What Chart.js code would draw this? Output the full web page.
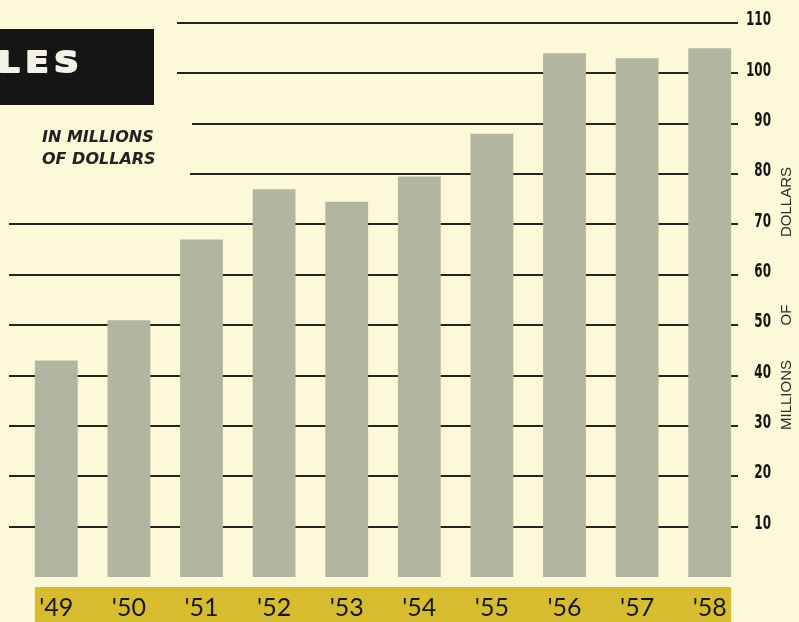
<!DOCTYPE html>
<html>
<head>
<meta charset="utf-8">
<script src="https://cdn.jsdelivr.net/npm/chart.js@4.4.1/dist/chart.umd.min.js"></script>
<style>
  html, body { margin: 0; padding: 0; background: #fcf9d9; }
  #wrap { width: 799px; height: 622px; position: relative; }
</style>
</head>
<body>
<div id="wrap"><canvas id="salesChart"></canvas></div>
<script>
// yearly sales, millions of dollars
const years = ["'49", "'50", "'51", "'52", "'53", "'54", "'55", "'56", "'57", "'58"];
const salesMillions = [43, 51, 67, 77, 74.5, 79.5, 88, 104, 103, 105];
const yTicks = [10, 20, 30, 40, 50, 60, 70, 80, 90, 100, 110];
const axisWords = ['MILLIONS', 'OF', 'DOLLARS'];

// rules stop short on the left where the heading sits
const ruleStart = { 110: 177, 100: 177, 90: 192, 80: 190 };

const yearBand = {
    id: 'yearBand',
    beforeDraw(chart) {
        const { ctx, chartArea } = chart;
        const bars = chart.getDatasetMeta(0).data;
        const first = bars[0];
        const last = bars[bars.length - 1];
        const left = first.x - first.width / 2;
        const right = last.x + last.width / 2;
        ctx.save();
        ctx.fillStyle = '#d6bc2e';
        ctx.fillRect(left, chartArea.bottom + 10, right - left, chart.height - chartArea.bottom - 10);
        ctx.restore();
    }
};

const rules = {
    id: 'rules',
    beforeDatasetsDraw(chart) {
        const { ctx, scales: { y } } = chart;
        ctx.save();
        ctx.strokeStyle = '#25241e';
        ctx.lineWidth = 2;
        y.ticks.forEach((t) => {
            const py = Math.round(y.getPixelForValue(t.value));
            ctx.beginPath();
            ctx.moveTo(ruleStart[t.value] ?? 9, py);
            ctx.lineTo(738, py);
            ctx.stroke();
        });

        // narrow figures beside the rules
        ctx.fillStyle = '#151513';
        ctx.font = 'bold 20px "DejaVu Sans"';
        ctx.textAlign = 'right';
        ctx.textBaseline = 'middle';
        y.ticks.forEach((t) => {
            const py = y.getPixelForValue(t.value) - 3;
            ctx.save();
            ctx.translate(771, py);
            ctx.scale(0.6, 1);
            ctx.fillText(String(t.value), 0, 0);
            ctx.restore();
        });
        ctx.restore();
    }
};

const heading = {
    id: 'heading',
    afterDraw(chart) {
        const { ctx } = chart;
        ctx.save();

        ctx.fillStyle = '#151513';
        ctx.fillRect(0, 29, 154, 76);
        ctx.save();
        ctx.fillStyle = '#f4f2e6';
        ctx.strokeStyle = '#f4f2e6';
        ctx.lineWidth = 2;
        ctx.lineJoin = 'round';
        ctx.font = 'bold 28px "DejaVu Sans"';
        ctx.letterSpacing = '5px';
        ctx.textBaseline = 'alphabetic';
        ctx.translate(-2, 72);
        ctx.scale(1.2, 1);
        ctx.fillText('LES', 0, 0);
        ctx.strokeText('LES', 0, 0);
        ctx.restore();

        ctx.fillStyle = '#222';
        ctx.font = 'italic bold 16px "DejaVu Sans"';
        ctx.fillText('IN MILLIONS', 42, 142);
        ctx.fillText('OF DOLLARS', 42, 164);

        // vertical axis caption, read bottom to top
        const centres = [395, 315, 202];
        ctx.font = '15px "Liberation Sans"';
        ctx.fillStyle = '#2a2a26';
        ctx.textAlign = 'center';
        ctx.textBaseline = 'middle';
        axisWords.forEach((w, i) => {
            ctx.save();
            ctx.translate(787, centres[i]);
            ctx.rotate(-Math.PI / 2);
            ctx.fillText(w, 0, 0);
            ctx.restore();
        });
        ctx.restore();
    }
};

const ctx = document.getElementById('salesChart').getContext('2d');

new Chart(ctx, {
    type: 'bar',
    data: {
        labels: years,
        datasets: [{
            label: 'Sales',
            data: salesMillions,
            backgroundColor: '#b2b5a0',
            borderWidth: 0,
            barPercentage: 0.59,
            categoryPercentage: 1.0,
        }]
    },
    options: {
        responsive: true,
        maintainAspectRatio: false,
        animation: false,
        layout: {
            padding: { top: 23, left: 20, right: 0, bottom: 0 }
        },
        plugins: {
            legend: { display: false },
            tooltip: { enabled: false },
        },
        scales: {
            x: {
                grid: { display: false },
                border: { display: false },
                ticks: {
                    color: '#161614',
                    font: { family: 'Lato', size: 25 },
                    padding: 8,
                    maxRotation: 0,
                },
                afterFit(scale) { scale.height = 45; },
            },
            y: {
                position: 'right',
                min: 0,
                max: 110,
                grid: { display: false },
                border: { display: false },
                afterBuildTicks(scale) {
                    scale.ticks = yTicks.map((v) => ({ value: v }));
                },
                ticks: { display: false },
                afterFit(scale) { scale.width = 53; },
            },
        },
    },
    plugins: [yearBand, rules, heading],
});
</script>
</body>
</html>
